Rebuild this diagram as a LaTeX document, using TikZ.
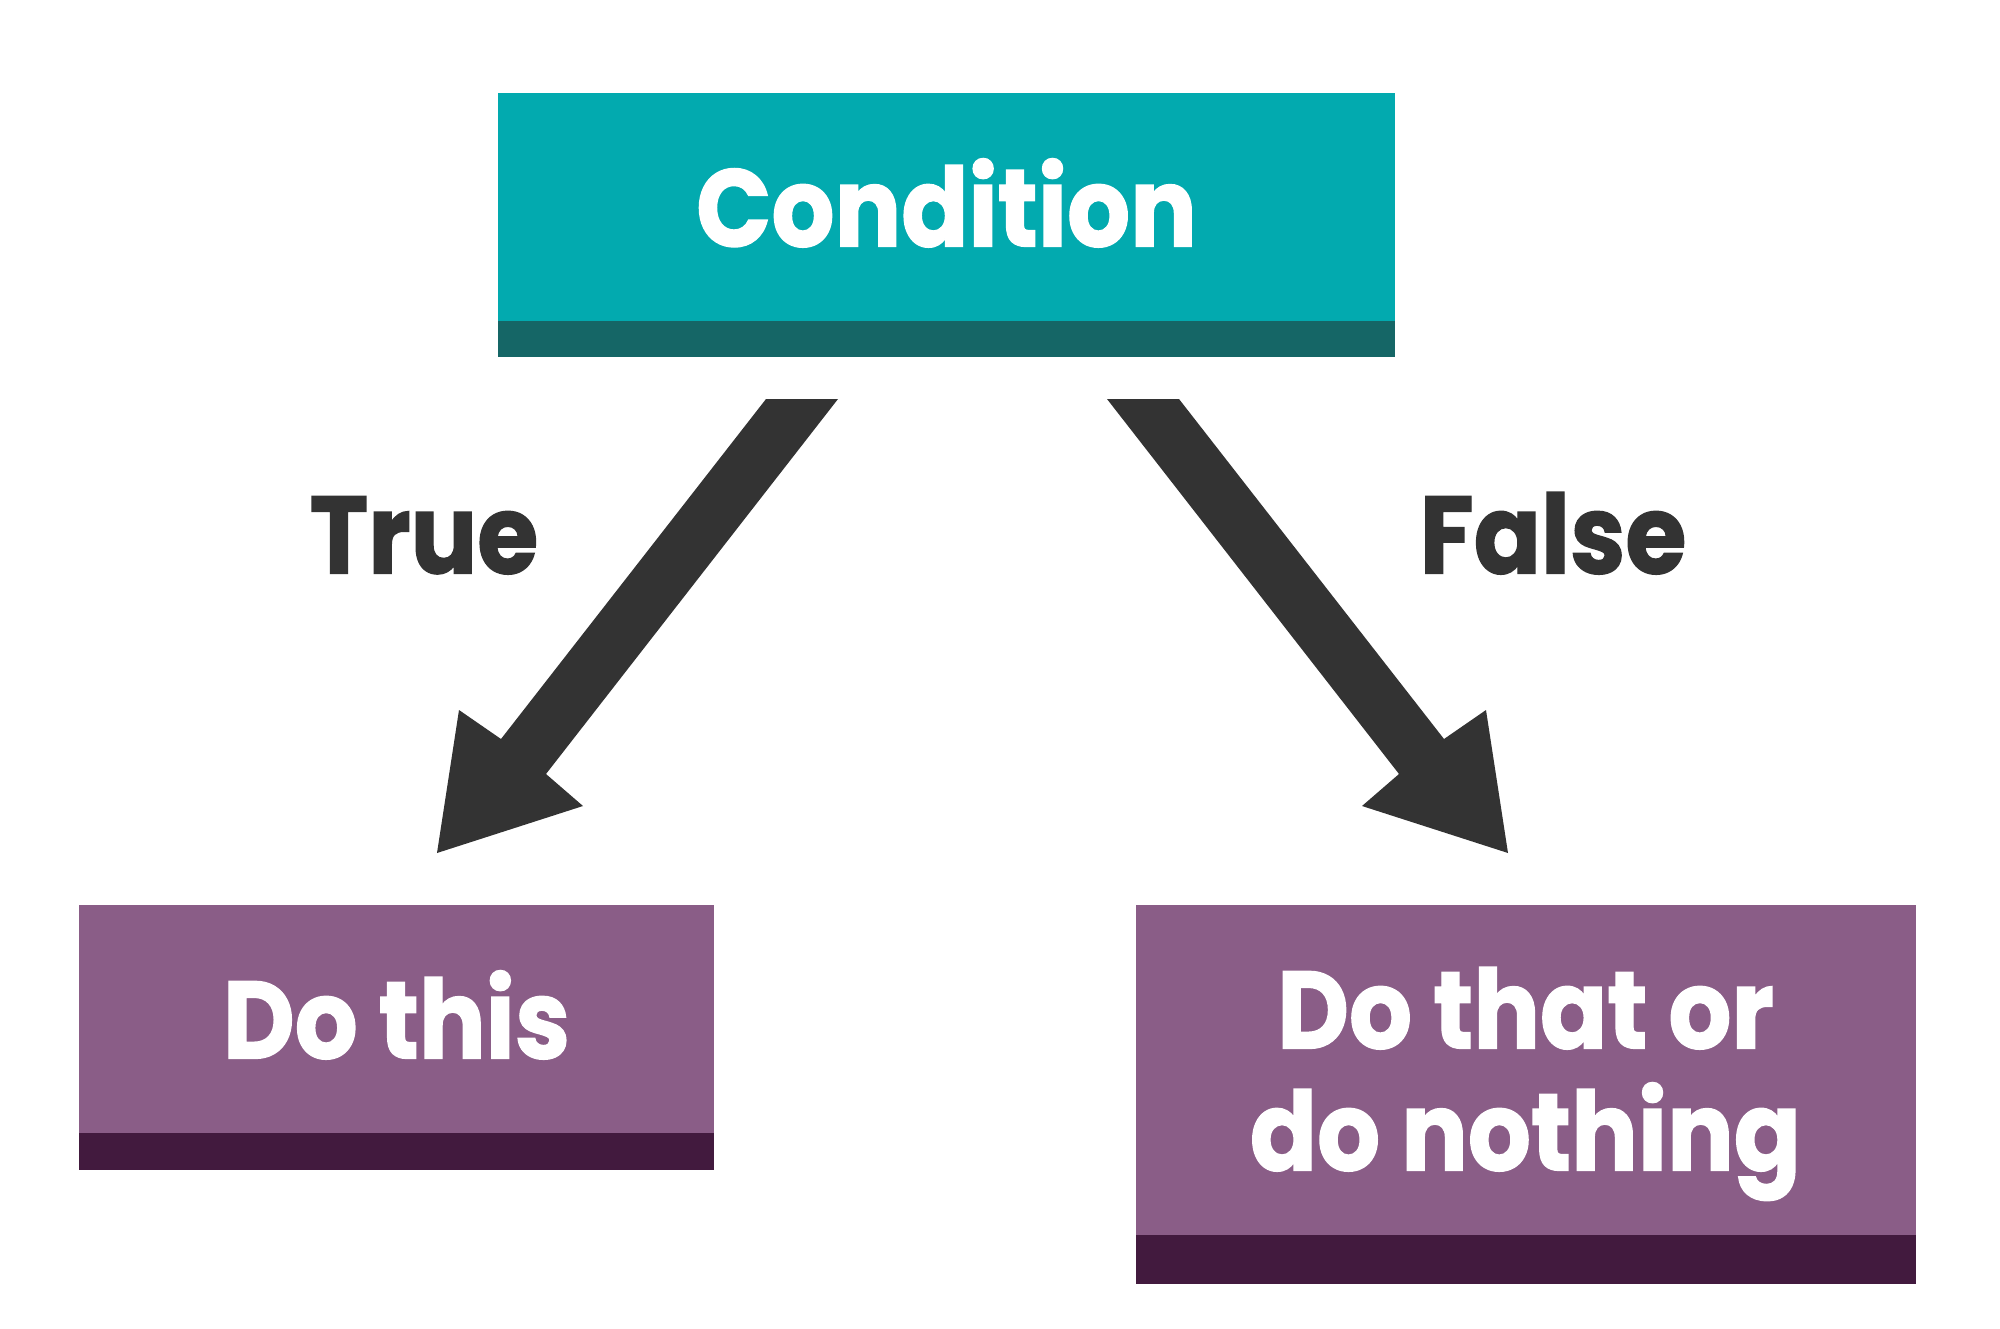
\documentclass[tikz,border=0pt]{standalone}
\usepackage{fontspec}
\setmainfont{Poppins}[BoldFeatures={FakeStretch=0.9, FakeBold=1.2}]
\definecolor{teal1}{HTML}{02AAAF}
\definecolor{teal2}{HTML}{156666}
\definecolor{purp1}{HTML}{8A5D87}
\definecolor{purp2}{HTML}{421A3E}
\definecolor{arrowc}{HTML}{333333}
\tikzset{
  lbltext/.style={font=\fontsize{110}{122}\selectfont\bfseries, inner sep=0pt, text height=79pt, text depth=0pt},
  topbox/.style={fill=teal1, draw=none, inner sep=0pt, text=white, align=center},
  botbox/.style={fill=purp1, draw=none, inner sep=0pt, text=white, align=center},
  bandA/.style={fill=teal2, draw=none, inner sep=0pt},
  bandB/.style={fill=purp2, draw=none, inner sep=0pt},
  bigarrow/.style={fill=arrowc, draw=none},
  branch/.style={text=arrowc}
}
\begin{document}
\begin{tikzpicture}[x=1pt,y=-1pt]
\useasboundingbox (0,0) rectangle (2000,1328);
\fill[white] (0,0) rectangle (2000,1328);
% Condition box
\node[topbox, lbltext, minimum width=897pt, minimum height=228pt] (cond) at (946.5,207) {Condition};
\node[bandA, minimum width=897pt, minimum height=36pt, anchor=north] (condband) at (cond.south) {};
% Do this box
\node[botbox, lbltext, minimum width=635pt, minimum height=228pt] (dothis) at (396.5,1019) {Do this};
\node[bandB, minimum width=635pt, minimum height=37pt, anchor=north] (dothisband) at (dothis.south) {};
% Do that box
\node[botbox, lbltext, text height=201pt, minimum width=780pt, minimum height=330pt] (dothat) at (1525.5,1070) {Do that or\\do nothing};
\node[bandB, minimum width=780pt, minimum height=49pt, anchor=north] (dothatband) at (dothat.south) {};
% Left arrow
\coordinate (la1) at (766,399);
\coordinate (la2) at (838,399);
\coordinate (la3) at (546,774);
\coordinate (la4) at (583,806);
\coordinate (la5) at (437,853);
\coordinate (la6) at (459,710);
\coordinate (la7) at (501,739);
\fill[bigarrow] (la1) -- (la2) -- (la3) -- (la4) -- (la5) -- (la6) -- (la7) -- cycle;
% Right arrow
\coordinate (ra1) at (1179,399);
\coordinate (ra2) at (1107,399);
\coordinate (ra3) at (1399,774);
\coordinate (ra4) at (1362,806);
\coordinate (ra5) at (1508,853);
\coordinate (ra6) at (1486,710);
\coordinate (ra7) at (1444,739);
\fill[bigarrow] (ra1) -- (ra2) -- (ra3) -- (ra4) -- (ra5) -- (ra6) -- (ra7) -- cycle;
% Labels
\node[branch, lbltext] (tlab) at (424,534) {True};
\node[branch, lbltext] (flab) at (1553,534) {False};
\end{tikzpicture}
\end{document}
